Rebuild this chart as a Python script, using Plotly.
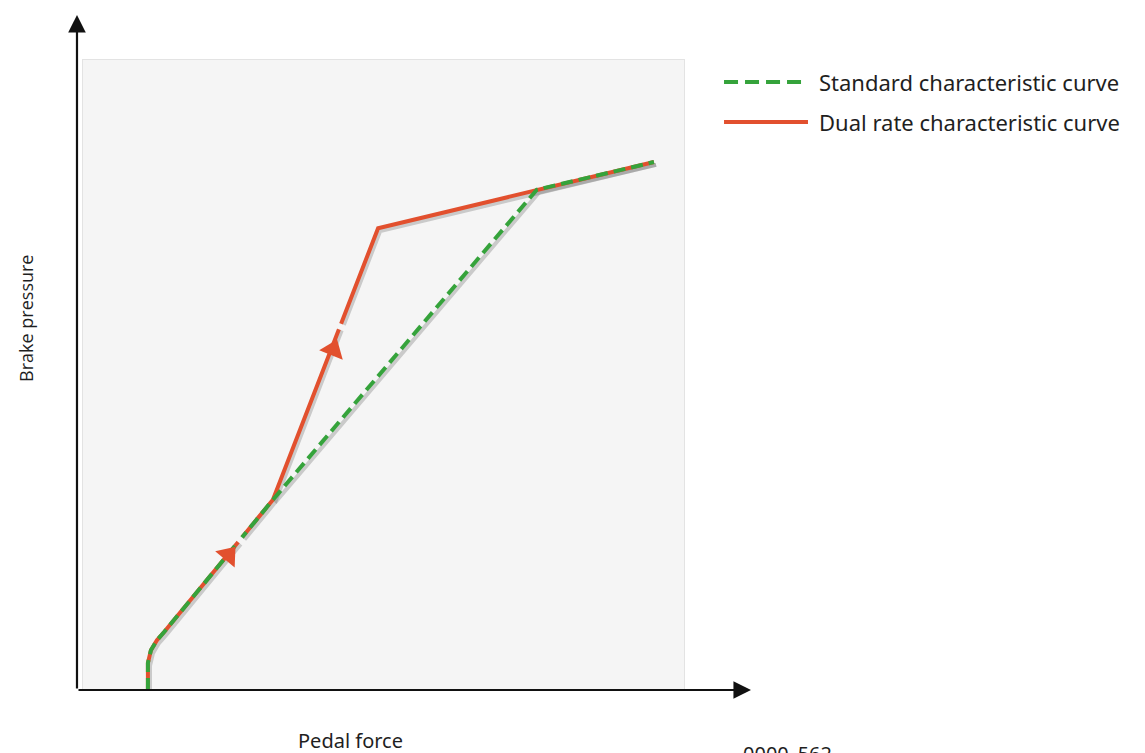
import numpy as np
import plotly.graph_objects as go

# Pedal force (x) vs brake pressure (y) on a 0-100 scale
common_x = [10.8, 10.8, 11.3, 12.3, 13.5, 31.6]
common_y = [0.0, 4.3, 6.3, 7.9, 9.2, 30.2]

dual_x = [31.6, 49.1, 75.5, 95.0]
dual_y = [30.2, 73.3, 79.4, 83.8]

standard_x = [31.6, 75.5, 95.0]
standard_y = [30.2, 79.4, 83.8]

# direction arrows on the dual-rate curve: (segment start, arrow centre, gap just past the tip)
arrow_from_x = [13.5, 31.6]
arrow_from_y = [9.2, 30.2]
arrow_at_x = [24.2, 41.6]
arrow_at_y = [21.4, 54.0]
gap_at_x = [26.2, 43.0]
gap_at_y = [23.8, 57.6]

series_names = ["Standard characteristic curve", "Dual rate characteristic curve"]

RED = "#E2502E"
GREEN = "#35A33B"
SHADOW = "rgba(90,90,90,0.28)"
TEXT = "#1f1f1f"
FONT = "Noto Sans"

fig = go.Figure()

# soft drop shadows under the curves
for xs, ys in (
    (common_x + dual_x[1:], common_y + dual_y[1:]),
    (standard_x, standard_y),
):
    fig.add_trace(go.Scatter(
        x=np.array(xs) + 0.35, y=np.array(ys) - 0.45, mode="lines",
        line={"color": SHADOW, "width": 4}, hoverinfo="skip",
    ))

fig.add_trace(go.Scatter(
    x=common_x + dual_x[1:], y=common_y + dual_y[1:], mode="lines",
    line={"color": RED, "width": 4}, name=series_names[1],
))
fig.add_trace(go.Scatter(
    x=common_x + standard_x[1:], y=common_y + standard_y[1:], mode="lines",
    line={"color": GREEN, "width": 4, "dash": "12px,6px"}, name=series_names[0],
))

for i in range(len(arrow_at_x)):
    fig.add_trace(go.Scatter(
        x=[arrow_from_x[i], gap_at_x[i]], y=[arrow_from_y[i], gap_at_y[i]],
        mode="markers", hoverinfo="skip",
        marker={"symbol": "line-ew", "size": [0, 12], "angleref": "previous",
                "opacity": [0, 1], "line": {"color": "#f5f5f5", "width": 6}},
    ))
    fig.add_trace(go.Scatter(
        x=[arrow_from_x[i], arrow_at_x[i]], y=[arrow_from_y[i], arrow_at_y[i]],
        mode="markers", hoverinfo="skip",
        marker={"symbol": "triangle-up", "size": [0, 22], "angleref": "previous",
                "opacity": [0, 1], "color": RED, "line": {"width": 0}},
    ))

# hand-drawn legend to the right of the plot
legend_rows = [(0.965, GREEN, "dash"), (0.9016, RED, "solid")]
for (ly, colour, dash), name in zip(legend_rows, series_names):
    fig.add_shape(type="line", xref="x domain", yref="y domain",
                  x0=1.0666, x1=1.2063, y0=ly, y1=ly,
                  line={"color": colour, "width": 4, "dash": "14px,7px" if dash == "dash" else "solid"})
    fig.add_annotation(xref="x domain", yref="y domain", x=1.222, y=ly, text=name,
                       showarrow=False, xanchor="left", yanchor="middle",
                       font={"family": FONT, "size": 22, "color": TEXT})

# black axis arrows
axis_kw = dict(xref="x domain", yref="y domain", axref="x domain", ayref="y domain",
               showarrow=True, arrowhead=2, arrowsize=1.6, arrowwidth=2.2,
               arrowcolor="#111111", text="")
fig.add_annotation(x=-0.01, y=1.0714, ax=-0.01, ay=0.0, **axis_kw)
fig.add_annotation(x=1.1115, y=0.0, ax=-0.01, ay=0.0, **axis_kw)

fig.add_annotation(xref="paper", yref="paper", x=-0.095, y=0.5905, text="Brake pressure",
                   textangle=-90, showarrow=False, xanchor="center", yanchor="middle",
                   font={"family": "Open Sans", "size": 18, "color": TEXT})
fig.add_annotation(xref="paper", yref="paper", x=0.4443, y=-0.0794, text="Pedal force",
                   showarrow=False, xanchor="center", yanchor="middle",
                   font={"family": FONT, "size": 20, "color": TEXT})
fig.add_annotation(xref="paper", yref="paper", x=1.172, y=-0.1, text="0000_562",
                   showarrow=False, xanchor="center", yanchor="middle",
                   font={"family": FONT, "size": 20, "color": TEXT})

fig.update_layout(
    width=1145, height=753,
    margin={"l": 75, "r": 469, "t": 52, "b": 71},
    paper_bgcolor="white", plot_bgcolor="#f5f5f5",
    showlegend=False,
    xaxis={"range": [0, 100], "showgrid": False, "zeroline": False, "showticklabels": False,
           "ticks": "", "showline": True, "mirror": True, "linecolor": "#e3e3e3", "linewidth": 1},
    yaxis={"range": [0, 100], "showgrid": False, "zeroline": False, "showticklabels": False,
           "ticks": "", "showline": True, "mirror": True, "linecolor": "#e3e3e3", "linewidth": 1},
)

fig.write_html("out.html")
